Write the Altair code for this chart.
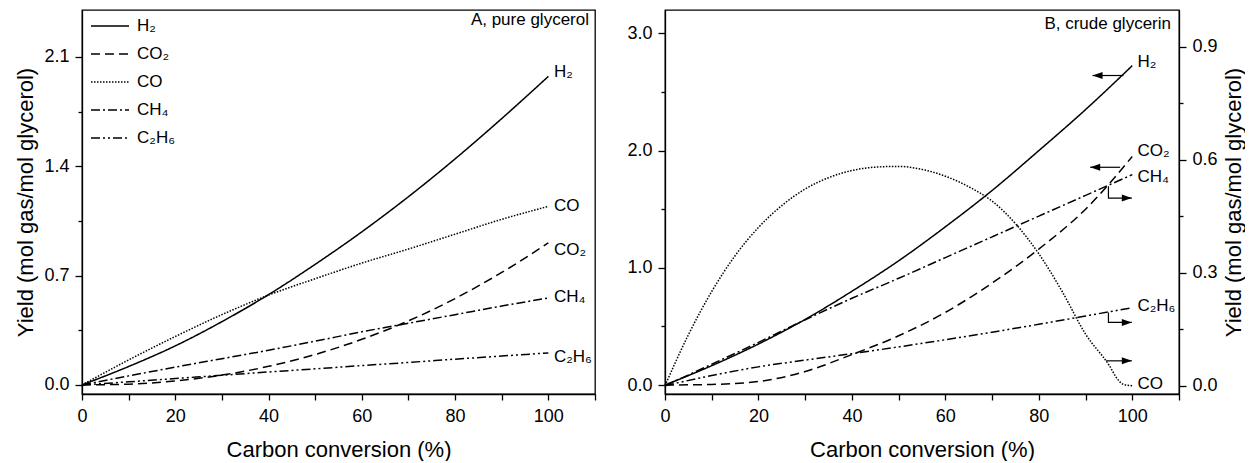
import altair as alt
import pandas as pd

FONT = "Liberation Sans"

# ---------------- data ----------------
SPECIES = ["H₂", "CO₂", "CO", "CH₄", "C₂H₆"]
DASHES = [[1, 0], [9, 5], [1.5, 1.5], [9, 3, 2, 3], [9, 3, 2, 3, 2, 3]]
WIDTHS = [1.5, 1.5, 1.2, 1.5, 1.5]

X = [0, 10, 20, 30, 40, 50, 60, 70, 80, 90, 100]

# Panel A: pure glycerol
A_H2 = [0, 0.118, 0.25, 0.405, 0.578, 0.772, 0.98, 1.205, 1.447, 1.705, 1.975]
A_CO2 = [0, 0.005, 0.026, 0.063, 0.119, 0.195, 0.292, 0.41, 0.553, 0.72, 0.909]
A_CO = [0, 0.16, 0.31, 0.45, 0.575, 0.68, 0.78, 0.87, 0.965, 1.06, 1.143]
A_CH4 = [0, 0.058, 0.114, 0.168, 0.222, 0.28, 0.34, 0.395, 0.45, 0.505, 0.557]
A_C2H6 = [0, 0.02, 0.041, 0.062, 0.083, 0.103, 0.124, 0.144, 0.165, 0.185, 0.205]
A_LABEL_X = 101.2
A_LABEL_Y = [2.0, 0.866, 1.143, 0.563, 0.179]   # H2, CO2, CO, CH4, C2H6

# Panel B: crude glycerin (left axis: H2, CO2; right axis: CO, CH4, C2H6)
B_H2 = [0, 0.165, 0.35, 0.56, 0.80, 1.06, 1.35, 1.66, 2.0, 2.35, 2.725]
B_CO2 = [0, 0.005, 0.03, 0.115, 0.26, 0.42, 0.62, 0.87, 1.16, 1.5, 1.95]
B_CH4 = [0, 0.057, 0.115, 0.175, 0.232, 0.285, 0.34, 0.395, 0.45, 0.505, 0.56]
B_C2H6 = [0, 0.027, 0.05, 0.068, 0.085, 0.103, 0.122, 0.142, 0.163, 0.185, 0.207]
B_CO_X = [0, 5, 10, 15, 20, 25, 30, 35, 40, 45, 50, 55, 60, 65, 70, 75, 80,
          85, 90, 95, 97, 98, 100]
B_CO = [0, 0.135, 0.25, 0.345, 0.42, 0.478, 0.522, 0.552, 0.571, 0.58, 0.582,
        0.574, 0.556, 0.528, 0.49, 0.43, 0.35, 0.25, 0.137, 0.055, 0.015,
        0.004, 0]
B_LABEL_X = 101.1
B_LEFT_LABELS = ["H₂", "CO₂"]
B_LEFT_LABEL_Y = [2.76, 1.994]
B_RIGHT_LABELS = ["CH₄", "C₂H₆", "CO"]
B_RIGHT_LABEL_Y = [0.553, 0.212, 0.004]

# arrows (annotation) in data coordinates
B_LEFT_ARROW_ID = ["H2", "H2", "CO2", "CO2"]
B_LEFT_ARROW_X = [98.1, 91.5, 97.4, 91.0]
B_LEFT_ARROW_Y = [2.641, 2.641, 1.858, 1.858]
B_RIGHT_ARROW_ID = ["CH4", "CH4", "CH4", "C2H6", "C2H6", "C2H6", "CO", "CO"]
B_RIGHT_ARROW_X = [94.9, 94.9, 99.9, 94.9, 94.9, 99.9, 94.4, 99.9]
B_RIGHT_ARROW_Y = [0.529, 0.498, 0.498, 0.194, 0.168, 0.168, 0.066, 0.066]

TITLE_A = "A, pure glycerol"
TITLE_B = "B, crude glycerin"
X_TITLE = "Carbon conversion (%)"
Y_TITLE = "Yield (mol gas/mol glycerol)"

X_TICKS = [0, 10, 20, 30, 40, 50, 60, 70, 80, 90, 100, 110]
A_Y_TICKS = [0, 0.35, 0.7, 1.05, 1.4, 1.75, 2.1]
B_LEFT_TICKS = [0, 0.5, 1.0, 1.5, 2.0, 2.5, 3.0]
B_RIGHT_TICKS = [0, 0.15, 0.3, 0.45, 0.6, 0.75, 0.9]

# ---------------- helpers ----------------
W_A, W_B, H = 513, 514, 384


def long_df(xs, series, names):
    rows = []
    for name, ys in zip(names, series):
        xx = xs[name] if isinstance(xs, dict) else xs
        for i, (x, y) in enumerate(zip(xx, ys)):
            rows.append({"x": x, "y": y, "species": name, "o": i})
    return pd.DataFrame(rows)


def major_test(step):
    return f"abs(datum.value/{step} - round(datum.value/{step})) < 0.001"


def y_axis(ticks, step, orient="left", title=None):
    kw = dict(
        values=ticks,
        format=".1f",
        labelExpr=f"{major_test(step)} ? datum.label : ''",
        tickSize={"condition": {"test": major_test(step), "value": 7}, "value": 4},
        orient=orient,
        labelFontSize=18,
        labelPadding=6,
        titleFontSize=22,
        titleFontWeight="normal",
        grid=False,
        labelOverlap=False,
        labelFlush=False,
        title=title,
    )
    if title is not None:
        kw["titlePadding"] = 6
        if orient == "right":
            kw["titleAngle"] = 270
            kw["titleBaseline"] = "top"
    return alt.Axis(**kw)


x_axis = alt.Axis(
    values=X_TICKS,
    labelExpr="datum.value % 20 == 0 && datum.value <= 100 ? datum.label : ''",
    tickSize=6,
    labelPadding=7,
    labelFontSize=18,
    title=X_TITLE,
    titleFontSize=22,
    titleFontWeight="normal",
    titlePadding=14,
    grid=False,
    labelOverlap=False,
    labelFlush=False,
)
x_scale = alt.Scale(domain=[0, 110], nice=False, zero=False)
dash_scale = alt.Scale(domain=SPECIES, range=DASHES)
width_scale = alt.Scale(domain=SPECIES, range=WIDTHS)

# ---------------- panel A ----------------
a_df = long_df(X, [A_H2, A_CO2, A_CO, A_CH4, A_C2H6], SPECIES)
a_y_scale = alt.Scale(domain=[-0.058, 2.4], nice=False, zero=False)
a_yaxis = y_axis(A_Y_TICKS, 0.7, "left", Y_TITLE)

a_lines = alt.Chart(a_df).mark_line(interpolate="monotone", color="black").encode(
    x=alt.X("x:Q", scale=x_scale, axis=x_axis),
    y=alt.Y("y:Q", scale=a_y_scale, axis=a_yaxis),
    strokeDash=alt.StrokeDash(
        "species:N", scale=dash_scale, sort=SPECIES,
        legend=alt.Legend(
            title=None, orient="none", legendX=8, legendY=-4,
            symbolType="stroke", symbolSize=1444, symbolStrokeWidth=1.5,
            symbolStrokeColor="black", labelFontSize=17, labelFont=FONT,
            labelColor="black", rowPadding=-12, labelOffset=7, padding=0,
        ),
    ),
    strokeWidth=alt.StrokeWidth("species:N", scale=width_scale, legend=None),
    order="o:Q",
)

a_lab_df = pd.DataFrame({"x": [A_LABEL_X] * 5, "y": A_LABEL_Y, "t": SPECIES})
a_labels = alt.Chart(a_lab_df).mark_text(
    align="left", baseline="middle", fontSize=17, font=FONT, color="black"
).encode(
    x=alt.X("x:Q", scale=x_scale, axis=x_axis),
    y=alt.Y("y:Q", scale=a_y_scale, axis=a_yaxis),
    text="t:N",
)

a_title = alt.Chart(pd.DataFrame({"t": [TITLE_A]})).mark_text(
    align="right", baseline="middle", fontSize=17, font=FONT, color="black"
).encode(text="t:N", x=alt.value(W_A - 6), y=alt.value(10))

panel_a = alt.layer(a_lines, a_labels, a_title).properties(width=W_A, height=H)

# ---------------- panel B ----------------
b_left_scale = alt.Scale(domain=[-0.0766, 3.2], nice=False, zero=False)
b_right_scale = alt.Scale(domain=[-0.022, 0.997], nice=False, zero=False)
b_left_axis = y_axis(B_LEFT_TICKS, 1.0, "left", None)
b_right_axis = y_axis(B_RIGHT_TICKS, 0.3, "right", Y_TITLE)

bl_df = long_df(X, [B_H2, B_CO2], ["H₂", "CO₂"])
br_df = long_df({"CO": B_CO_X, "CH₄": X, "C₂H₆": X}, [B_CO, B_CH4, B_C2H6],
                ["CO", "CH₄", "C₂H₆"])


def b_lines(df, scale, axis):
    return alt.Chart(df).mark_line(interpolate="monotone", color="black").encode(
        x=alt.X("x:Q", scale=x_scale, axis=x_axis),
        y=alt.Y("y:Q", scale=scale, axis=axis),
        strokeDash=alt.StrokeDash("species:N", scale=dash_scale, legend=None),
        strokeWidth=alt.StrokeWidth("species:N", scale=width_scale, legend=None),
        order="o:Q",
    )


def b_arrows(ids, xs, ys, scale, axis, head_path):
    df = pd.DataFrame({"id": ids, "x": xs, "y": ys, "o": list(range(len(ids)))})
    line = alt.Chart(df).mark_line(color="black", strokeWidth=1.2).encode(
        x=alt.X("x:Q", scale=x_scale, axis=x_axis),
        y=alt.Y("y:Q", scale=scale, axis=axis),
        detail="id:N",
        order="o:Q",
    )
    tips = df.groupby("id", sort=False).tail(1)
    head = alt.Chart(tips).mark_point(
        shape=head_path, filled=True, color="black", size=100, opacity=1
    ).encode(
        x=alt.X("x:Q", scale=x_scale, axis=x_axis),
        y=alt.Y("y:Q", scale=scale, axis=axis),
    )
    return line, head


def b_labels(texts, ys, scale, axis):
    df = pd.DataFrame({"x": [B_LABEL_X] * len(texts), "y": ys, "t": texts})
    return alt.Chart(df).mark_text(
        align="left", baseline="middle", fontSize=17, font=FONT, color="black"
    ).encode(
        x=alt.X("x:Q", scale=x_scale, axis=x_axis),
        y=alt.Y("y:Q", scale=scale, axis=axis),
        text="t:N",
    )


LEFT_HEAD = "M0,0L2,-0.7L2,0.7Z"
RIGHT_HEAD = "M0,0L-2,-0.7L-2,0.7Z"

bl_line, bl_head = b_arrows(B_LEFT_ARROW_ID, B_LEFT_ARROW_X, B_LEFT_ARROW_Y,
                            b_left_scale, b_left_axis, LEFT_HEAD)
br_line, br_head = b_arrows(B_RIGHT_ARROW_ID, B_RIGHT_ARROW_X, B_RIGHT_ARROW_Y,
                            b_right_scale, b_right_axis, RIGHT_HEAD)

b_title = alt.Chart(pd.DataFrame({"t": [TITLE_B]})).mark_text(
    align="right", baseline="middle", fontSize=17, font=FONT, color="black"
).encode(text="t:N", x=alt.value(W_B - 8), y=alt.value(14))

left_group = alt.layer(
    b_lines(bl_df, b_left_scale, b_left_axis), bl_line, bl_head,
    b_labels(B_LEFT_LABELS, B_LEFT_LABEL_Y, b_left_scale, b_left_axis),
)
right_group = alt.layer(
    b_lines(br_df, b_right_scale, b_right_axis), br_line, br_head,
    b_labels(B_RIGHT_LABELS, B_RIGHT_LABEL_Y, b_right_scale, b_right_axis),
)
panel_b = alt.layer(left_group, right_group, b_title).resolve_scale(
    y="independent"
).properties(width=W_B, height=H)

chart = alt.hconcat(panel_a, panel_b, spacing=29).resolve_legend(
    strokeDash="independent"
).properties(
    padding={"left": 14, "top": 5, "right": 0, "bottom": 0}
).configure_view(
    stroke="black", strokeWidth=1.3
).configure_axis(
    domainColor="black", domainWidth=1.3, tickColor="black", tickWidth=1.3,
    labelColor="black", titleColor="black", labelFont=FONT, titleFont=FONT,
).configure_text(font=FONT)

chart.save("out.html", embed_options={"renderer": "svg", "actions": False})
